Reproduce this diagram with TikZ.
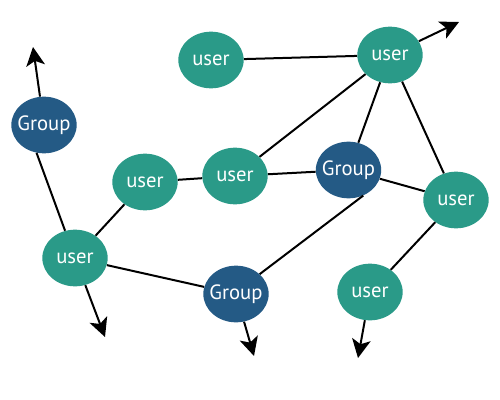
\documentclass[tikz,border=0pt]{standalone}
\usepackage{fontspec}
\setmainfont{PT Sans}
\usetikzlibrary{shapes.geometric,arrows.meta}
\definecolor{tealc}{HTML}{2A9A88}
\definecolor{bluec}{HTML}{245A85}
\tikzset{
  base/.style={ellipse,text=white,minimum width=49pt,minimum height=42.5pt,inner xsep=-8pt,inner ysep=0pt,font=\fontsize{15.5}{16}\selectfont},
  usr/.style={base,fill=tealc},
  grp/.style={base,fill=bluec},
  lnk/.style={draw=black,line width=1.5pt},
  arr/.style={lnk,-{Stealth[length=14pt,width=14pt,inset=3.5pt]}}
}
\begin{document}
\begin{tikzpicture}[x=0.75pt,y=-0.75pt]
\useasboundingbox (0,0) rectangle (500,400);
% nodes
\node[usr] (u1) at (211,60) {user};
\node[usr] (u2) at (390,55) {user};
\node[grp] (g1) at (44,125) {Group};
\node[usr] (u3) at (145,182) {user};
\node[usr] (u4) at (235,176) {user};
\node[grp] (g2) at (348.5,170) {Group};
\node[usr] (u5) at (456,200) {user};
\node[usr] (u6) at (75,258) {user};
\node[grp] (g3) at (236,294) {Group};
\node[usr] (u7) at (370,292) {user};
% free ends
\coordinate (t1) at (459,22);
\coordinate (t2) at (33,47);
\coordinate (t3) at (105,337);
\coordinate (t4) at (254,356);
\coordinate (t5) at (358,358);
% edges
\draw[lnk] (u1) -- (u2);
\draw[lnk] (u2) -- (u4);
\draw[lnk] (u2) -- (g2);
\draw[lnk] (u2) -- (u5);
\draw[lnk] (g2) -- (u5);
\draw[lnk] (g2) -- (u4);
\draw[lnk] (g2.300) -- (g3.40);
\draw[lnk] (u3) -- (u4);
\draw[lnk] (u3) -- (u6);
\draw[lnk] (g1.255) -- (u6.110);
\draw[lnk] (u6) -- (g3);
\draw[lnk] (u5) -- (u7);
% arrows
\draw[arr] (u2) -- (t1);
\draw[arr] (g1) -- (t2);
\draw[arr] (u6) -- (t3);
\draw[arr] (g3) -- (t4);
\draw[arr] (u7) -- (t5);
\end{tikzpicture}
\end{document}
